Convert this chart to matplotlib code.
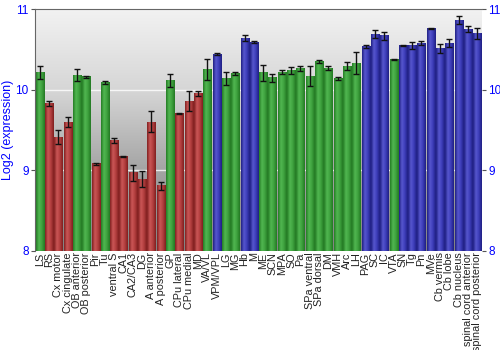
import numpy as np
import matplotlib
matplotlib.use("Agg")
import matplotlib.pyplot as plt
from matplotlib.colors import LinearSegmentedColormap

plt.rcParams['font.family'] = ['Liberation Sans', 'DejaVu Sans']

# regions, values, errors and colour group (g=green, r=red, b=blue)
regions = ['LS', 'RS', 'Cx motor', 'Cx cingulate', 'OB anterior', 'OB posterior',
           'Pir', 'Tu', 'ventral S', 'CA1', 'CA2/CA3', 'DG', 'A anterior',
           'A posterior', 'GP', 'CPu lateral', 'CPu medial', 'MD', 'VA/VL',
           'VPM/VPL', 'LG', 'MG', 'Hb', 'M', 'ME', 'SCN', 'MPA', 'SO', 'Pa',
           'SPa ventral', 'SPa dorsal', 'DM', 'VMH', 'Arc', 'LH', 'PAG', 'SC',
           'IC', 'VTA', 'SN', 'Tg', 'Pn', 'MVe', 'Cb vermis', 'Cb lobe',
           'Cb nucleus', 'spinal cord anterior', 'spinal cord posterior']
values = [10.21, 9.83, 9.41, 9.60, 10.18, 10.16, 9.08, 10.09, 9.37, 9.17,
          8.97, 8.89, 9.60, 8.81, 10.11, 9.70, 9.86, 9.95, 10.25, 10.44,
          10.14, 10.20, 10.64, 10.59, 10.21, 10.15, 10.22, 10.24, 10.26,
          10.17, 10.35, 10.27, 10.14, 10.29, 10.33, 10.54, 10.69, 10.67,
          10.37, 10.55, 10.55, 10.58, 10.76, 10.51, 10.58, 10.86, 10.75, 10.70]
errors = [0.08, 0.03, 0.085, 0.06, 0.075, 0.01, 0.015, 0.02, 0.025, 0.005,
          0.1, 0.1, 0.13, 0.05, 0.08, 0.005, 0.12, 0.03, 0.13, 0.01,
          0.08, 0.02, 0.04, 0.015, 0.1, 0.05, 0.02, 0.04, 0.03,
          0.13, 0.02, 0.02, 0.015, 0.05, 0.14, 0.02, 0.05, 0.05,
          0.005, 0.005, 0.04, 0.02, 0.01, 0.06, 0.05, 0.05, 0.04, 0.07]
groups = ['g', 'r', 'r', 'r', 'g', 'g', 'r', 'g', 'r', 'r', 'r', 'r', 'r',
          'r', 'g', 'r', 'r', 'r', 'g', 'b', 'g', 'g', 'b', 'b', 'g', 'g',
          'g', 'g', 'g', 'g', 'g', 'g', 'g', 'g', 'g', 'b', 'b', 'b', 'g',
          'b', 'b', 'b', 'b', 'b', 'b', 'b', 'b', 'b']

# dark edge -> light -> dark edge, to get the shiny bar look
shades = {
    'g': ['#237a23', '#52b852', '#3ea23e', '#237623'],
    'r': ['#7e1e1e', '#cc5858', '#b23e3e', '#7e1e1e'],
    'b': ['#1e1e80', '#5858d0', '#3c3cb8', '#1e1e80'],
}
cmaps = {k: LinearSegmentedColormap.from_list(k, v) for k, v in shades.items()}

fig = plt.figure(figsize=(5, 3.5), dpi=100)
ax = fig.add_axes([0.07, 0.283, 0.894, 0.691])

# grey gradient background
bg = np.linspace(0, 1, 256).reshape(-1, 1)
bg_cmap = LinearSegmentedColormap.from_list('bg', ['#f2f2f2', '#d6d6d6', '#a4a4a4', '#828282'])
ax.imshow(bg, cmap=bg_cmap, extent=[0, 1, 0, 1], transform=ax.transAxes,
          aspect='auto', zorder=0)

x = np.arange(len(regions))
w = 0.86
grad = np.linspace(0, 1, 64).reshape(1, -1)
for i, (v, g) in enumerate(zip(values, groups)):
    ax.imshow(grad, cmap=cmaps[g], extent=[x[i] - w / 2, x[i] + w / 2, 8, v],
              aspect='auto', zorder=2, interpolation='bicubic')

ax.errorbar(x, values, yerr=errors, fmt='none', ecolor='#111111',
            elinewidth=1, capsize=2.3, capthick=1, zorder=3)

for yv in [9, 10]:
    ax.axhline(yv, color='white', lw=1, alpha=0.8, zorder=1)

ax.set_xlim(-0.5, len(regions) - 0.5)
ax.set_ylim(8, 11)
ax.set_yticks([8, 9, 10, 11])
ax.set_xticks(x)
ax.set_xticklabels(regions, rotation=90, fontsize=7.8, color='#222222')
ax.tick_params(axis='x', length=0, pad=1)
ax.tick_params(axis='y', colors='#555555', labelcolor='blue', labelsize=8.5,
               length=3, pad=1.5, left=True, right=True, labelright=True)
ax.set_ylabel('Log2 (expression)', color='blue', fontsize=9, labelpad=1)

for side in ['left', 'top']:
    ax.spines[side].set_color('#666666')
for side in ['right', 'bottom']:
    ax.spines[side].set_visible(False)

fig.savefig('out.png', dpi=100)
